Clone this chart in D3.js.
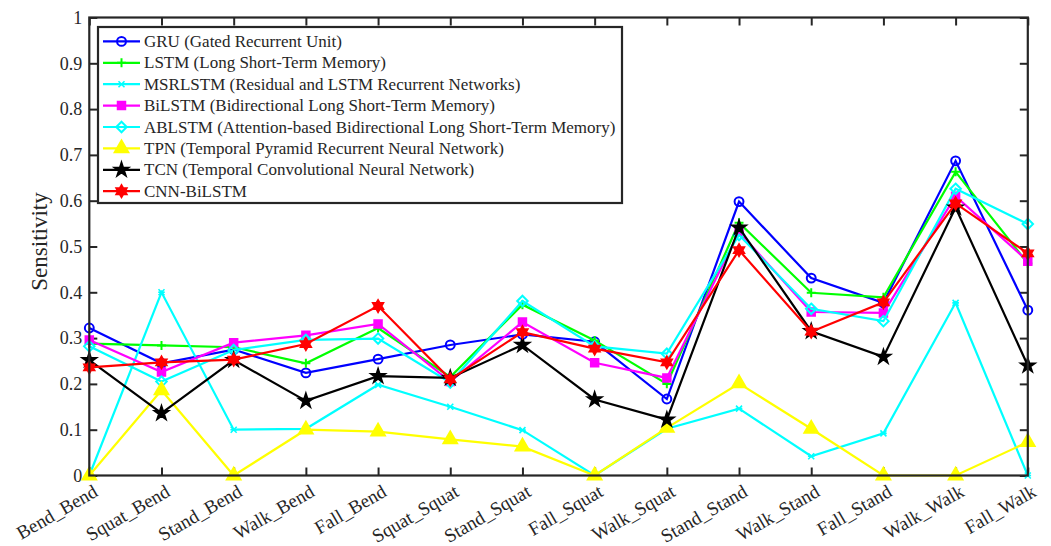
<!DOCTYPE html>
<html>
<head>
<meta charset="utf-8">
<script src="https://cdn.jsdelivr.net/npm/d3@7"></script>
<style>
  html, body { margin: 0; padding: 0; background: #fff; }
  svg { display: block; }
  text { font-family: "Liberation Serif", "Times New Roman", serif; fill: #262626; }
</style>
</head>
<body>
<svg id="chart" width="1051" height="546"></svg>
<script>
// Activity pairs along the x axis
const categories = ["Bend_Bend", "Squat_Bend", "Stand_Bend", "Walk_Bend", "Fall_Bend",
  "Squat_Squat", "Stand_Squat", "Fall_Squat", "Walk_Squat", "Stand_Stand",
  "Walk_Stand", "Fall_Stand", "Walk_Walk", "Fall_Walk"];

// Sensitivity per model
const gru      = [0.322, 0.245, 0.275, 0.224, 0.254, 0.285, 0.308, 0.292, 0.167, 0.598, 0.431, 0.377, 0.687, 0.361];
const lstm     = [0.288, 0.284, 0.280, 0.245, 0.322, 0.215, 0.373, 0.295, 0.200, 0.552, 0.399, 0.389, 0.663, 0.463];
const msrlstm  = [0.000, 0.400, 0.100, 0.102, 0.198, 0.150, 0.099, 0.000, 0.102, 0.146, 0.042, 0.092, 0.377, 0.000];
const bilstm   = [0.296, 0.226, 0.290, 0.306, 0.331, 0.205, 0.335, 0.246, 0.213, 0.532, 0.357, 0.355, 0.610, 0.468];
const ablstm   = [0.282, 0.205, 0.274, 0.296, 0.299, 0.203, 0.381, 0.282, 0.266, 0.525, 0.364, 0.337, 0.626, 0.549];
const tpn      = [0.000, 0.186, 0.000, 0.100, 0.096, 0.079, 0.063, 0.000, 0.104, 0.201, 0.102, 0.000, 0.000, 0.073];
const tcn      = [0.252, 0.136, 0.252, 0.163, 0.217, 0.213, 0.285, 0.166, 0.122, 0.541, 0.315, 0.259, 0.585, 0.240];
const cnnBilstm= [0.236, 0.247, 0.253, 0.287, 0.370, 0.210, 0.313, 0.277, 0.247, 0.492, 0.314, 0.378, 0.594, 0.485];

const seriesNames = [
  "GRU (Gated Recurrent Unit)",
  "LSTM (Long Short-Term Memory)",
  "MSRLSTM (Residual and LSTM Recurrent Networks)",
  "BiLSTM (Bidirectional Long Short-Term Memory)",
  "ABLSTM (Attention-based Bidirectional Long Short-Term Memory)",
  "TPN (Temporal Pyramid Recurrent Neural Network)",
  "TCN (Temporal Convolutional Neural Network)",
  "CNN-BiLSTM"
];
const seriesValues = [gru, lstm, msrlstm, bilstm, ablstm, tpn, tcn, cnnBilstm];

const yTicks = [0, 0.1, 0.2, 0.3, 0.4, 0.5, 0.6, 0.7, 0.8, 0.9, 1];
const yTickLabels = ["0", "0.1", "0.2", "0.3", "0.4", "0.5", "0.6", "0.7", "0.8", "0.9", "1"];

// Styling per series
const styles = [
  { color: "#0000ff", marker: "circle" },
  { color: "#00ff00", marker: "plus" },
  { color: "#00ffff", marker: "x" },
  { color: "#ff00ff", marker: "square" },
  { color: "#00ffff", marker: "diamond" },
  { color: "#ffff00", marker: "triangle" },
  { color: "#000000", marker: "pentagram" },
  { color: "#ff0000", marker: "hexagram" }
];

const svg = d3.select("#chart");
const axisColor = "#262626";
const plot = { left: 89.3, right: 1027.8, top: 17.5, bottom: 475.5 };

const x = d3.scalePoint().domain(categories).range([plot.left, plot.right]);
const y = d3.scaleLinear().domain([0, 1]).range([plot.bottom, plot.top]);

// Six-pointed star symbol
const symbolHexagram = {
  draw(context, size) {
    const r = Math.sqrt(size / 1.8);
    const ri = r * 0.58;
    for (let i = 0; i < 12; i++) {
      const a = -Math.PI / 2 + i * Math.PI / 6;
      const rr = i % 2 === 0 ? r : ri;
      const px = rr * Math.cos(a), py = rr * Math.sin(a);
      if (i === 0) context.moveTo(px, py); else context.lineTo(px, py);
    }
    context.closePath();
  }
};
// Thin diagonal cross
const symbolX = {
  draw(context, size) {
    const r = Math.sqrt(size) / 2;
    context.moveTo(-r, -r); context.lineTo(r, r);
    context.moveTo(-r, r); context.lineTo(r, -r);
    context.moveTo(-r * 1.1, 0); context.lineTo(r * 1.1, 0);
  }
};
// Upright plus
const symbolPlus = {
  draw(context, size) {
    const r = Math.sqrt(size) / 2;
    context.moveTo(-r, 0); context.lineTo(r, 0);
    context.moveTo(0, -r); context.lineTo(0, r);
  }
};
// Square rotated 45 degrees, equal width and height
const symbolRhombus = {
  draw(context, size) {
    const r = Math.sqrt(size) / 2;
    context.moveTo(0, -r); context.lineTo(r, 0); context.lineTo(0, r); context.lineTo(-r, 0);
    context.closePath();
  }
};

function markerPath(kind) {
  switch (kind) {
    case "circle":    return d3.symbol(d3.symbolCircle, 62)();
    case "plus":      return d3.symbol(symbolPlus, 80)();
    case "x":         return d3.symbol(symbolX, 36)();
    case "square":    return d3.symbol(d3.symbolSquare, 56)();
    case "diamond":   return d3.symbol(symbolRhombus, 110)();
    case "triangle":  return d3.symbol(d3.symbolTriangle, 80)();
    case "pentagram": return d3.symbol(d3.symbolStar, 55)();
    case "hexagram":  return d3.symbol(symbolHexagram, 62)();
  }
}
function markerFill(kind, color) {
  if (kind === "square" || kind === "triangle" || kind === "pentagram" || kind === "hexagram") return color;
  return "none";
}

// Axis box and ticks
const tickLen = 8;
const g = svg.append("g");

const yLeft = g.append("g").attr("transform", `translate(${plot.left},0)`)
  .call(d3.axisLeft(y).tickValues(yTicks).tickFormat((d, i) => yTickLabels[i]).tickSize(-tickLen).tickPadding(7));
const yRight = g.append("g").attr("transform", `translate(${plot.right},0)`)
  .call(d3.axisRight(y).tickValues(yTicks).tickFormat("").tickSize(-tickLen));
const xBottom = g.append("g").attr("transform", `translate(0,${plot.bottom})`)
  .call(d3.axisBottom(x).tickSize(-tickLen).tickFormat(""));
const xTop = g.append("g").attr("transform", `translate(0,${plot.top})`)
  .call(d3.axisTop(x).tickSize(-tickLen).tickFormat(""));

[yLeft, yRight, xBottom, xTop].forEach(a => {
  a.select(".domain").remove();
  a.selectAll(".tick line").attr("stroke", axisColor).attr("stroke-width", 2);
});
yLeft.selectAll(".tick text")
  .attr("font-family", "Liberation Serif, Times New Roman, serif")
  .attr("font-size", 18).attr("fill", axisColor);

// Rotated category labels
xBottom.selectAll(".tick").append("text")
  .attr("transform", "translate(6,14) rotate(-30)")
  .attr("text-anchor", "end")
  .attr("dominant-baseline", "central")
  .attr("font-size", 19)
  .attr("fill", axisColor)
  .text(d => d);

// Series lines and markers
const line = d3.line().x((d, i) => x(categories[i])).y(d => y(d));
seriesValues.forEach((vals, si) => {
  const st = styles[si];
  const sg = svg.append("g");
  sg.append("path").datum(vals)
    .attr("d", line).attr("fill", "none")
    .attr("stroke", st.color).attr("stroke-width", 2.2)
    .attr("stroke-linejoin", "miter");
  sg.selectAll("path.mk").data(vals).join("path").attr("class", "mk")
    .attr("transform", (d, i) => `translate(${x(categories[i])},${y(d)})`)
    .attr("d", markerPath(st.marker))
    .attr("fill", markerFill(st.marker, st.color))
    .attr("stroke", st.color).attr("stroke-width", st.marker === "x" ? 1.6 : 2);
});

// Box outline drawn on top
svg.append("rect")
  .attr("x", plot.left).attr("y", plot.top)
  .attr("width", plot.right - plot.left).attr("height", plot.bottom - plot.top)
  .attr("fill", "none").attr("stroke", axisColor).attr("stroke-width", 2.2);

// Y axis title
svg.append("text")
  .attr("transform", `translate(47,${(plot.top + plot.bottom) / 2 - 5}) rotate(-90)`)
  .attr("text-anchor", "middle")
  .attr("font-size", 23)
  .attr("fill", axisColor)
  .text("Sensitivity");

// Legend
const lg = { x: 98, y: 27, w: 524, h: 176, row0: 41.4, rowStep: 21.4 };
const legend = svg.append("g");
legend.append("rect")
  .attr("x", lg.x).attr("y", lg.y).attr("width", lg.w).attr("height", lg.h)
  .attr("fill", "#fff").attr("stroke", axisColor).attr("stroke-width", 2.2);
seriesNames.forEach((name, i) => {
  const st = styles[i];
  const ry = lg.row0 + i * lg.rowStep;
  const row = legend.append("g").attr("transform", `translate(0,${ry})`);
  row.append("line").attr("x1", 103).attr("x2", 140).attr("y1", 0).attr("y2", 0)
    .attr("stroke", st.color).attr("stroke-width", 2.2);
  row.append("path").attr("transform", "translate(121.5,0)")
    .attr("d", markerPath(st.marker))
    .attr("fill", markerFill(st.marker, st.color))
    .attr("stroke", st.color).attr("stroke-width", st.marker === "x" ? 1.6 : 2);
  row.append("text").attr("x", 144).attr("y", 0)
    .attr("dominant-baseline", "central")
    .attr("font-size", 17)
    .attr("fill", "#000")
    .text(name);
});
</script>
</body>
</html>
